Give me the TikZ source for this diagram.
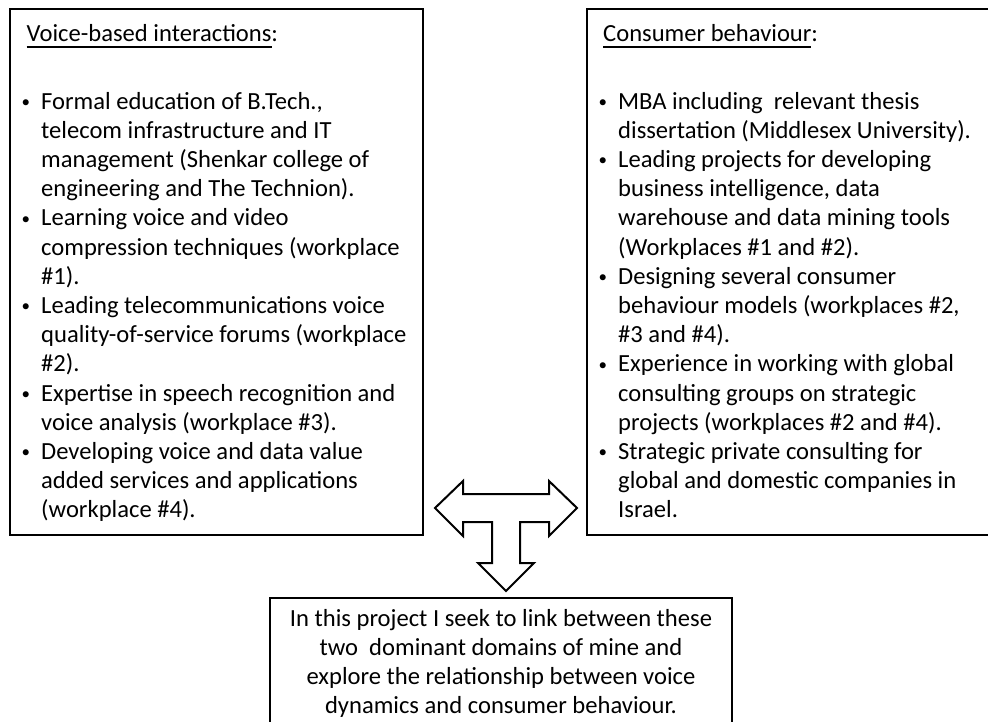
\documentclass[tikz,border=0pt]{standalone}
\usepackage{fontspec}
\setmainfont{Carlito}
\newcommand{\bul}{\makebox[20.5pt][l]{\hspace*{1pt}\raisebox{1.5pt}{\fontsize{17pt}{17pt}\selectfont\textbullet}}}
\newcommand{\myul}[1]{\setbox0\hbox{#1}\rlap{\rule[-6.5pt]{\wd0}{1.4pt}}\box0}
\tikzset{
  frame/.style={draw=black, line width=2.5pt, inner sep=0pt},
  ln/.style={anchor=base west, inner sep=0pt, font=\fontsize{24.6pt}{29.2pt}\selectfont, text=black},
  cl/.style={ln, anchor=base},
  tarrow/.style={draw=black, line width=2pt, fill=white, line join=miter}
}
\begin{document}
\begin{tikzpicture}[x=1pt,y=-1pt]
\useasboundingbox (0,0) rectangle (988,721);
\begin{scope}
\clip (0,0) rectangle (988,721);
% frames
\node[frame, minimum width=413pt, minimum height=526pt] (L) at (216.5,272) {};
\node[frame, minimum width=413pt, minimum height=526pt] (R) at (793.5,272) {};
\node[frame, minimum width=462pt, minimum height=162pt] (B) at (501,679) {};
% left box text
\node[ln] (ta) at (26.5,41) {\myul{Voice-based interactions}:};
\node[ln] (a1) at (20.5,109) {\bul Formal education of B.Tech.,};
\node[ln] (a2) at (41,138.2) {telecom infrastructure and IT};
\node[ln] (a3) at (41,167.4) {management (Shenkar college of};
\node[ln] (a4) at (41,196.6) {engineering and The Technion).};
\node[ln] (a5) at (20.5,225.8) {\bul Learning voice and video};
\node[ln] (a6) at (41,255) {compression techniques (workplace};
\node[ln] (a7) at (41,284.2) {\#1).};
\node[ln] (a8) at (20.5,313.4) {\bul Leading telecommunications voice};
\node[ln] (a9) at (41,342.6) {quality-of-service forums (workplace};
\node[ln] (a10) at (41,371.8) {\#2).};
\node[ln] (a11) at (20.5,401) {\bul Expertise in speech recognition and};
\node[ln] (a12) at (41,430.2) {voice analysis (workplace \#3).};
\node[ln] (a13) at (20.5,459.4) {\bul Developing voice and data value};
\node[ln] (a14) at (41,488.6) {added services and applications};
\node[ln] (a15) at (41,517.8) {(workplace \#4).};
% right box text
\node[ln] (tb) at (603,41) {\myul{Consumer behaviour}:};
\node[ln] (b1) at (597.5,109) {\bul MBA including\ \ relevant thesis};
\node[ln] (b2) at (618,138.2) {dissertation (Middlesex University).};
\node[ln] (b3) at (597.5,167.4) {\bul Leading projects for developing};
\node[ln] (b4) at (618,196.6) {business intelligence, data};
\node[ln] (b5) at (618,225.8) {warehouse and data mining tools};
\node[ln] (b6) at (618,255) {(Workplaces \#1 and \#2).};
\node[ln] (b7) at (597.5,284.2) {\bul Designing several consumer};
\node[ln] (b8) at (618,313.4) {behaviour models (workplaces \#2,};
\node[ln] (b9) at (618,342.6) {\#3 and \#4).};
\node[ln] (b10) at (597.5,371.8) {\bul Experience in working with global};
\node[ln] (b11) at (618,401) {consulting groups on strategic};
\node[ln] (b12) at (618,430.2) {projects (workplaces \#2 and \#4).};
\node[ln] (b13) at (597.5,459.4) {\bul Strategic private consulting for};
\node[ln] (b14) at (618,488.6) {global and domestic companies in};
\node[ln] (b15) at (618,517.8) {Israel.};
% bottom box text
\node[cl] (c1) at (501,626) {In this project I seek to link between these};
\node[cl] (c2) at (501,655.2) {two\ \ dominant domains of mine and};
\node[cl] (c3) at (501,684.4) {explore the relationship between voice};
\node[cl] (c4) at (501,713.6) {dynamics and consumer behaviour.};
% T-shaped block arrow
\draw[tarrow] (435,508) -- (463,481) -- (463,494) -- (549,494) -- (549,481)
  -- (577,508) -- (549,536) -- (549,522) -- (520,522) -- (520,563) -- (534,563)
  -- (506,591) -- (478,563) -- (492,563) -- (492,522) -- (463,522) -- (463,536) -- cycle;
\end{scope}
\end{tikzpicture}
\end{document}
